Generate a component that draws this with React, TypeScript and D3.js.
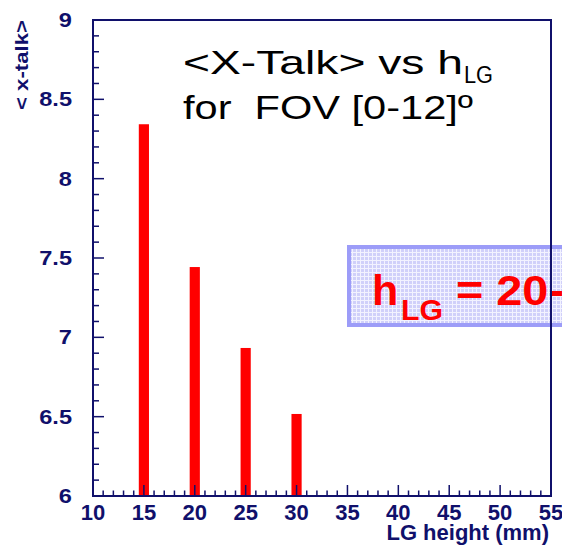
import React from "react";
import * as d3 from "d3";

const lgHeights = [15, 20, 25, 30];
const xTalk = [8.343, 7.443, 6.933, 6.517];
const xMajorTicks = [10, 15, 20, 25, 30, 35, 40, 45, 50, 55];
const yMajorTicks = [6, 6.5, 7, 7.5, 8, 8.5, 9];
const yTickLabels = ["6", "6.5", "7", "7.5", "8", "8.5", "9"];
const titleLine1 = "<X-Talk> vs h";
const titleSub = "LG";
const titleLine2 = "for  FOV [0-12]\u00BA";
const xTitle = "LG height (mm)";
const yTitle = "< x-talk>";

const W = 562;
const H = 545;
const AX = "#10106b";

export default function App() {
  const x = d3.scaleLinear().domain([10, 55]).range([93, 551]);
  const y = d3.scaleLinear().domain([6, 9]).range([496, 20]);
  const xMinor = d3.range(10, 55.001, 1).filter((v) => v % 5 !== 0);
  const yMinor = d3.range(0, 31, 1).map((i) => 6 + i * 0.1).filter((_, i) => i % 5 !== 0);
  const barW = x(15.5) - x(14.5);
  const font = "'Liberation Sans', Arial, Helvetica, sans-serif";

  return (
    <div style={{ position: "fixed", left: 0, top: 0, width: W, height: H, background: "#fff" }}>
      <svg width={W} height={H} style={{ display: "block" }} fontFamily={font}>
        <defs>
          <pattern id="hatch" width="4" height="4" patternUnits="userSpaceOnUse">
            <rect width="4" height="4" fill="#d0d0fa" />
            <line x1="0" y1="0.5" x2="4" y2="0.5" stroke="#f2f2ff" strokeWidth="1" />
            <line x1="0.5" y1="0" x2="0.5" y2="4" stroke="#f2f2ff" strokeWidth="1" />
          </pattern>
        </defs>
        <rect width={W} height={H} fill="#fff" />

        {/* bars */}
        {lgHeights.map((h, i) => (
          <rect
            key={h}
            x={x(h) - barW / 2}
            y={y(xTalk[i])}
            width={barW}
            height={y(6) - y(xTalk[i])}
            fill="#ff0000"
          />
        ))}

        {/* title */}
        <text x={183} y={74} fontSize={34} fill="#000" textLength={280} lengthAdjust="spacingAndGlyphs">
          {titleLine1}
        </text>
        <text x={464} y={83} fontSize={23} fill="#000" textLength={29} lengthAdjust="spacingAndGlyphs">
          {titleSub}
        </text>
        <text
          x={183}
          y={119}
          fontSize={34}
          fill="#000"
          style={{ whiteSpace: "pre" }}
          textLength={290}
          lengthAdjust="spacingAndGlyphs"
        >
          {titleLine2}
        </text>

        {/* box */}
        <rect x={349} y={247} width={260} height={78} fill="url(#hatch)" stroke="#9c9cf8" strokeWidth={4} />
        <text x={372} y={305} fontSize={43} fontWeight="bold" fill="#ff0000">h</text>
        <text x={401} y={320} fontSize={30} fontWeight="bold" fill="#ff0000" textLength={42} lengthAdjust="spacingAndGlyphs">LG</text>
        <text x={456} y={305} fontSize={43} fontWeight="bold" fill="#ff0000" textLength={108} lengthAdjust="spacingAndGlyphs">= 20-</text>

        {/* frame */}
        <rect x={93} y={20} width={458} height={476} fill="none" stroke={AX} strokeWidth={2} />

        {/* x ticks */}
        {xMajorTicks.map((t) => (
          <line key={"xm" + t} x1={x(t)} x2={x(t)} y1={496} y2={485} stroke={AX} strokeWidth={1.5} />
        ))}
        {xMinor.map((t) => (
          <line key={"xn" + t} x1={x(t)} x2={x(t)} y1={496} y2={490.5} stroke={AX} strokeWidth={1.5} />
        ))}
        {/* y ticks */}
        {yMajorTicks.map((t) => (
          <line key={"ym" + t} x1={93} x2={104} y1={y(t)} y2={y(t)} stroke={AX} strokeWidth={1.5} />
        ))}
        {yMinor.map((t) => (
          <line key={"yn" + t} x1={93} x2={99} y1={y(t)} y2={y(t)} stroke={AX} strokeWidth={1.5} />
        ))}

        {/* tick labels */}
        {xMajorTicks.map((t) => (
          <text key={"xl" + t} x={x(t)} y={520} fontSize={22} fontWeight="bold" fill={AX} textAnchor="middle">
            {String(t)}
          </text>
        ))}
        {yMajorTicks.map((t, i) => (
          <g key={"yl" + t} transform={`translate(72,${y(t) + 7}) scale(1.18,1)`}>
            <text x={0} y={0} fontSize={20} fontWeight="bold" fill={AX} textAnchor="end">
              {yTickLabels[i]}
            </text>
          </g>
        ))}

        {/* axis titles */}
        <text x={549} y={540} fontSize={22} fontWeight="bold" fill={AX} textAnchor="end">
          {xTitle}
        </text>
        <g transform={`translate(28,110) rotate(-90)`}>
          <text
            x={0}
            y={0}
            fontSize={18}
            fontWeight="bold"
            fill={AX}
            textLength={90}
            lengthAdjust="spacingAndGlyphs"
          >
            {yTitle}
          </text>
        </g>
      </svg>
    </div>
  );
}
